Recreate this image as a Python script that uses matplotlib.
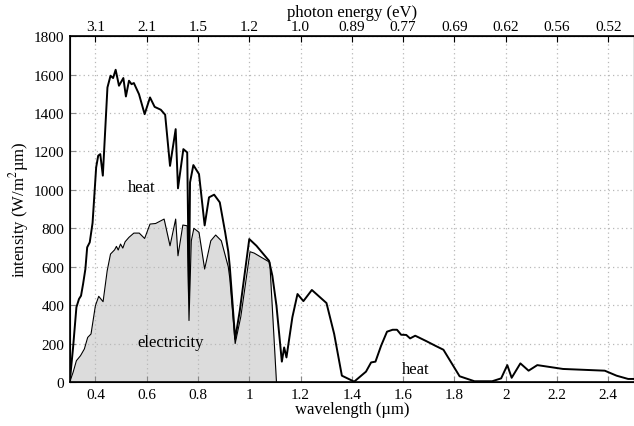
import matplotlib
matplotlib.use("Agg")
import matplotlib.pyplot as plt

plt.rcParams["font.family"] = ["Liberation Serif", "DejaVu Serif"]
plt.rcParams["mathtext.fontset"] = "stix"

# solar spectrum (total power, ends up as heat + electricity)
wl_heat = [0.300, 0.313, 0.326, 0.336, 0.344, 0.352, 0.361, 0.368, 0.378, 0.389,
           0.403, 0.411, 0.419, 0.429, 0.447, 0.459, 0.469, 0.479, 0.492,
           0.509, 0.519, 0.531, 0.541, 0.550, 0.570, 0.592, 0.613, 0.631, 0.655,
           0.672, 0.691, 0.713, 0.722, 0.743, 0.758, 0.765, 0.769, 0.782, 0.804,
           0.826, 0.843, 0.863, 0.885, 0.906, 0.918, 0.924, 0.945, 0.963, 1.000,
           1.028, 1.077, 1.090, 1.106, 1.127, 1.136, 1.145, 1.168, 1.188, 1.211,
           1.244, 1.301, 1.331, 1.361, 1.409, 1.455, 1.475, 1.492, 1.514, 1.537,
           1.559, 1.576, 1.592, 1.612, 1.627, 1.647, 1.690, 1.725, 1.757, 1.820,
           1.878, 1.947, 1.982, 2.006, 2.023, 2.057, 2.089, 2.123, 2.223, 2.386,
           2.432, 2.477, 2.500]
heat = [0, 180, 389, 432, 449, 510, 588, 701, 727, 828,
        1117, 1178, 1186, 1074, 1533, 1594, 1582, 1625, 1542,
        1582, 1486, 1568, 1550, 1556, 1498, 1394, 1481, 1432, 1417,
        1391, 1125, 1316, 1008, 1212, 1195, 449, 1039, 1129, 1082,
        815, 961, 975, 935, 779, 680, 600, 224, 371, 744,
        709, 631, 553, 397, 106, 180, 128, 337, 458, 421,
        479, 411, 250, 33, 2, 54, 102, 106, 189, 262,
        272, 272, 246, 245, 227, 241, 213, 189, 168, 30,
        4, 4, 19, 88, 22, 97, 59, 88, 68, 59,
        33, 16, 16]

# part converted to electricity (below the 1.1 um band gap)
wl_elec = [0.300, 0.313, 0.326, 0.342, 0.357, 0.370, 0.383, 0.400, 0.413, 0.430,
           0.446, 0.459, 0.475, 0.482, 0.489, 0.498, 0.507, 0.516, 0.531, 0.550,
           0.571, 0.592, 0.613, 0.635, 0.655, 0.668, 0.691, 0.713, 0.722, 0.741,
           0.758, 0.765, 0.774, 0.784, 0.804, 0.826, 0.850, 0.869, 0.891, 0.918,
           0.924, 0.945, 0.967, 1.003, 1.019, 1.080, 1.106]
elec = [0, 50, 111, 137, 172, 232, 250, 397, 446, 418,
        579, 666, 688, 706, 687, 718, 697, 730, 753, 775,
        775, 747, 822, 825, 839, 848, 709, 848, 657, 817,
        813, 320, 735, 800, 779, 588, 735, 765, 735, 600,
        540, 200, 340, 678, 671, 623, 0]

wl_ticks = [0.4, 0.6, 0.8, 1.0, 1.2, 1.4, 1.6, 1.8, 2.0, 2.2, 2.4]
wl_labels = ["0.4", "0.6", "0.8", "1", "1.2", "1.4", "1.6", "1.8", "2", "2.2", "2.4"]
ev_labels = ["3.1", "2.1", "1.5", "1.2", "1.0", "0.89", "0.77", "0.69", "0.62", "0.56", "0.52"]
y_ticks = list(range(0, 2000, 200))

fig = plt.figure(figsize=(6.34, 4.27), dpi=100)
ax = fig.add_axes([0.110, 0.103, 0.89, 0.810])

ax.fill_between(wl_elec, elec, color="#dcdcdc", linewidth=0, zorder=1)
ax.plot(wl_elec, elec, color="black", linewidth=0.8, zorder=2)
ax.plot(wl_heat, heat, color="black", linewidth=1.4, zorder=3)

ax.text(0.58, 1015, "heat", ha="center", va="center", fontsize=12)
ax.text(0.695, 208, "electricity", ha="center", va="center", fontsize=12)
ax.text(1.648, 68, "heat", ha="center", va="center", fontsize=12)

ax.set_xlim(0.3, 2.5)
ax.set_ylim(0, 1800)
ax.set_xticks(wl_ticks)
ax.set_xticklabels(wl_labels)
ax.set_yticks(y_ticks)
ax.set_xlabel("wavelength (µm)", fontsize=12, labelpad=0)
ax.set_ylabel("intensity (W/m$^2$µm)", fontsize=12, labelpad=2)
ax.grid(True, color="#b8b8b8", linestyle=(0, (1, 2.5)), linewidth=0.9)
ax.tick_params(direction="in", length=4, labelsize=11, pad=4, color="#888888")
for side in ["left", "bottom", "top"]:
    ax.spines[side].set_linewidth(1.2)

top = ax.twiny()
top.set_xlim(ax.get_xlim())
top.set_xticks(wl_ticks)
top.set_xticklabels(ev_labels)
top.tick_params(direction="in", length=4, labelsize=11, pad=2)
top.set_xlabel("photon energy (eV)", fontsize=12, labelpad=3)

fig.savefig("out.png", dpi=100)
